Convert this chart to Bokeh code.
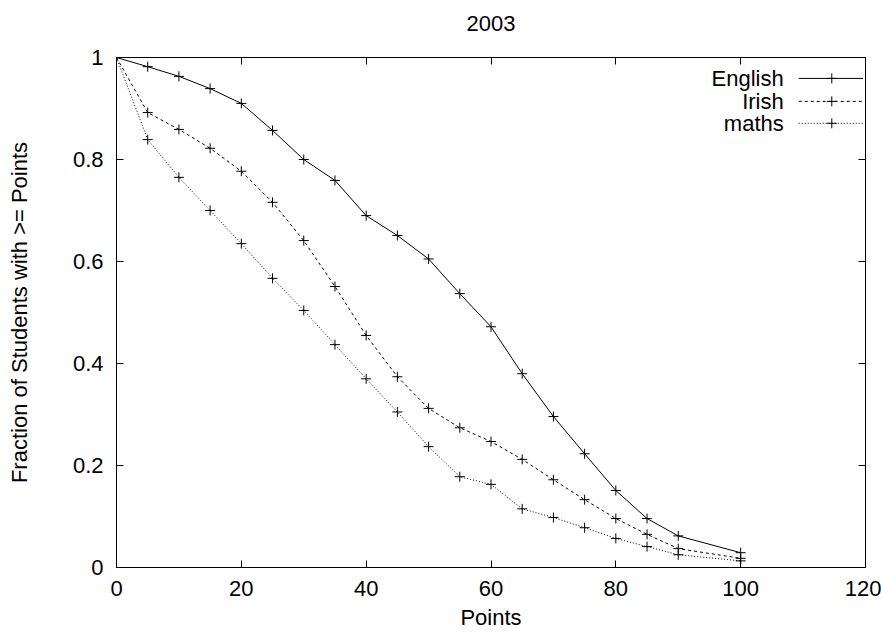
from bokeh.plotting import figure
from bokeh.models import Range1d, LinearAxis, FixedTicker, CustomJSTickFormatter, ColumnDataSource
from bokeh.embed import file_html
from bokeh.resources import INLINE
from bokeh.core.properties import value

points = [0, 5, 10, 15, 20, 25, 30, 35, 40, 45, 50, 55, 60, 65, 70, 75, 80, 85, 90, 100]
english = [1.0, 0.982, 0.963, 0.939, 0.910, 0.857, 0.800, 0.759, 0.690, 0.651, 0.605, 0.537,
           0.472, 0.380, 0.296, 0.223, 0.151, 0.096, 0.062, 0.029]
irish = [1.0, 0.892, 0.859, 0.822, 0.777, 0.716, 0.641, 0.551, 0.455, 0.374, 0.312, 0.274,
         0.247, 0.212, 0.172, 0.133, 0.096, 0.065, 0.037, 0.018]
maths = [1.0, 0.839, 0.765, 0.700, 0.635, 0.567, 0.504, 0.437, 0.370, 0.305, 0.237, 0.178,
         0.163, 0.115, 0.098, 0.078, 0.057, 0.041, 0.025, 0.013]
series_names = ["English", "Irish", "maths"]
x_ticks = [0, 20, 40, 60, 80, 100, 120]
y_ticks = [0, 0.2, 0.4, 0.6, 0.8, 1.0]
title_text = "2003"
x_label = "Points"
y_label = "Fraction of Students with >= Points"

FONT = "Liberation Sans"
FS = "22px"

p = figure(width=881, height=632, output_backend="svg", toolbar_location=None,
           x_range=Range1d(0, 120), y_range=Range1d(0, 1),
           min_border_left=116, min_border_right=16, min_border_top=57, min_border_bottom=65,
           x_axis_label=x_label, y_axis_label=y_label)
p.background_fill_color = "white"
p.border_fill_color = "white"
p.grid.visible = False
p.outline_line_color = "black"
p.outline_line_width = 1

fmt = CustomJSTickFormatter(code="return String(Math.round(tick*10)/10);")
blank = CustomJSTickFormatter(code="return '';")

p.xaxis.ticker = FixedTicker(ticks=x_ticks)
p.yaxis.ticker = FixedTicker(ticks=y_ticks)
p.yaxis.formatter = fmt

# mirrored axes (ticks only); the top one carries the title text
top = LinearAxis(ticker=FixedTicker(ticks=x_ticks), formatter=blank, axis_label=title_text)
right = LinearAxis(ticker=FixedTicker(ticks=y_ticks), formatter=blank)
p.add_layout(top, "above")
p.add_layout(right, "right")

for ax in p.axis:
    ax.major_tick_in = 7
    ax.major_tick_out = 0
    ax.minor_tick_in = 0
    ax.minor_tick_out = 0
    ax.axis_line_color = "black"
    ax.major_tick_line_color = "black"
    ax.major_label_text_font = FONT
    ax.major_label_text_color = "black"
    ax.major_label_text_font_size = FS
    ax.axis_label_text_font = FONT
    ax.axis_label_text_font_style = "normal"
    ax.axis_label_text_font_size = FS
    ax.axis_label_text_color = "black"

top.major_label_standoff = 0
top.axis_label_standoff = 27
right.major_label_standoff = 0
p.below[0].major_label_standoff = 13
p.below[0].axis_label_standoff = 6
p.left[0].major_label_standoff = 13
p.left[0].axis_label_standoff = 38

styles = [("solid", "English"), ("3 3", "Irish"), ("1 2", "maths")]
data = [english, irish, maths]
for (dash, name), ys in zip(styles, data):
    src = ColumnDataSource(dict(x=points, y=ys))
    p.line("x", "y", source=src, line_color="black", line_width=1, line_dash=dash)
    p.scatter("x", "y", source=src, marker="cross", size=10, line_color="black", line_width=1)

# manual gnuplot-style key (label right-aligned, sample on the right)
key_y = [0.959, 0.914, 0.871]
key_text_x = 106.9
key_x0, key_x1, key_xm = 109.3, 119.6, 114.6
p.text(x=[key_text_x] * 3, y=key_y, text=series_names, text_align="right",
       text_baseline="middle", text_font=value(FONT), text_font_size=FS, text_color="black")
for (dash, name), yk in zip(styles, key_y):
    p.line([key_x0, key_x1], [yk, yk], line_color="black", line_width=1, line_dash=dash)
    p.scatter([key_xm], [yk], marker="cross", size=10, line_color="black", line_width=1)

open("out.html", "w").write(file_html(p, INLINE))
